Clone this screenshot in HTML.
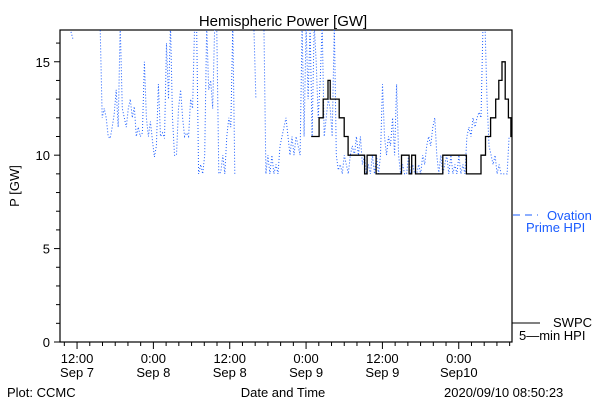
<!DOCTYPE html>
<html><head><meta charset="utf-8"><style>
body{margin:0;background:#fff;}
svg{display:block;font-family:"Liberation Sans","DejaVu Sans",sans-serif;}
</style></head><body>
<svg id="chart" width="600" height="400" viewBox="0 0 600 400" xmlns="http://www.w3.org/2000/svg">
<rect width="600" height="400" fill="#fff"/>
<defs><clipPath id="plotclip"><rect x="60" y="30" width="452" height="312"/></clipPath></defs>
<text x="283" y="26" font-size="15" text-anchor="middle">Hemispheric Power [GW]</text>
<text transform="translate(19,186) rotate(-90)" font-size="13" text-anchor="middle">P [GW]</text>
<text x="283" y="397" font-size="13" text-anchor="middle">Date and Time</text>
<text x="7" y="397" font-size="13">Plot: CCMC</text>
<text x="444" y="397" font-size="13">2020/09/10 08:50:23</text>
<g id="axes"></g>
<g id="series" clip-path="url(#plotclip)"></g>
<g>
<line x1="513" y1="215" x2="538" y2="215" stroke="#1a5cff" stroke-width="1" stroke-dasharray="7,5"/>
<text x="547" y="220" font-size="13" fill="#1a5cff">Ovation</text>
<text x="526" y="232" font-size="13" fill="#1a5cff">Prime HPI</text>
<line x1="512" y1="323" x2="540" y2="323" stroke="#000" stroke-width="1"/>
<text x="553" y="327" font-size="13">SWPC</text>
<text x="519" y="340" font-size="13">5—min HPI</text>
</g>
</svg>
<script>
// time in hours since Sep 7 00:00
const xDomain = [9.32, 80.37];
const yDomain = [0, 16.7];
const yTickValues = [0, 5, 10, 15];
const xTickHours = [12, 24, 36, 48, 60, 72];
const xTickLine1 = ["12:00", "0:00", "12:00", "0:00", "12:00", "0:00"];
const xTickLine2 = ["Sep 7", "Sep 8", "Sep 8", "Sep 9", "Sep 9", "Sep10"];
// Ovation segments: start time, sample spacing (h), values
const ovStarts = [11.05, 15.63, 39.79, 41.37];
const ovSteps = [0.316, 0.316, 0.316, 0.316];
const ovValues = [
 [16.6, 16.2],
 [17,12,12.5,12,11,10.9,11.5,12.2,13.5,11.5,17,12.5,12,11.5,12.5,13,12,12.6,11,11.5,11,11.2,15,12,11,11.8,10.8,9.9,10.5,13.8,11,11.2,10.9,16,13,17,12,10,10,12.5,13.5,12,11,11.2,11,13,12.5,17,17,9,9.5,9,10,17,13.5,14,12.5,17,17,9,9.1,10,9,11,12,11.5,17,9],
 [17, 13],
 [17,9,10,9,10,9,9.5,9,10.5,11,11.5,12,11,10,11,10,11,10.5,10,17,11,17,13,17,11,17,15,12,14,17,11,12,13,12.5,11,17,10,9.2,9.5,9,10,9.5,9,10,10.5,10,11,10,11,9.5,10,9,9.5,9,10,9,10,9,10,13.8,11,10,11,10.5,12,10,13.8,10,9,9.5,9,9,10,9,9.5,9,9,9.5,9,10,9.5,10.5,11,10.5,11.5,12,10,9,10,9,9.5,10,9,10,9,9.5,9,10,9,9.5,9,11,11.5,11,12,11.5,12,12.3,12,17,17,13,10.5,10,9.5,10,9,9.5,9,9,9,9,11]
];
// SWPC step series
const swpcTimes = [48.8,50.05,50.7,51.45,51.8,53.2,54.0,54.6,57.2,57.6,59.0,63.0,64.2,64.6,65.2,69.5,73.2,75.5,76.2,77.0,77.8,78.3,78.8,79.3,79.8,80.2,80.4];
const swpcValues = [11,12,13,14,13,12,11,10,9,10,9,10,9,10,9,10,9,10,11,12,13,14,15,13,12,11,11];

const L=60,R=512,T=30,B=342;
function xs(h){return L+(h-xDomain[0])/(xDomain[1]-xDomain[0])*(R-L);}
function ys(v){return B-(v-yDomain[0])/(yDomain[1]-yDomain[0])*(B-T);}
const NS="http://www.w3.org/2000/svg";
const axes=document.getElementById('axes');
const series=document.getElementById('series');
function mk(tag,attrs,parent){const e=document.createElementNS(NS,tag);for(const k in attrs)e.setAttribute(k,attrs[k]);parent.appendChild(e);return e;}

const frame=mk('rect',{x:L,y:T,width:R-L,height:B-T,fill:'none',stroke:'#000','stroke-width':1.2},axes);


for(let v=0;v<=16;v++){
  const t=mk('line',{x1:L-(v%5===0?6:4),x2:L,y1:ys(v),y2:ys(v),stroke:'#000'},axes);
  
  
}
yTickValues.forEach(v=>{
  const t=mk('text',{x:L-10,y:ys(v)+5,'font-size':13,'text-anchor':'end'},axes);
  t.textContent=v;
  
  
});
for(let h=10;h<=80;h+=2){
  const major=(h%12===0);
  const t=mk('line',{x1:xs(h),x2:xs(h),y1:B,y2:B+(major?7:4),stroke:'#000'},axes);
  
  
}
xTickHours.forEach((h,i)=>{
  const a=mk('text',{x:xs(h),y:363,'font-size':13,'text-anchor':'middle'},axes);
  a.textContent=xTickLine1[i];
  
  
  const b=mk('text',{x:xs(h),y:377,'font-size':13,'text-anchor':'middle'},axes);
  b.textContent=xTickLine2[i];
  
  
});
ovValues.forEach((vals,si)=>{
  const pts=vals.map((v,i)=>xs(ovStarts[si]+i*ovSteps[si]).toFixed(1)+','+ys(v).toFixed(1)).join(' ');
  const p=mk('polyline',{points:pts,fill:'none',stroke:'#1a5cff','stroke-width':1,'stroke-dasharray':'1,2'},series);
  
  
});
let d='';
swpcTimes.forEach((t,i)=>{
  const x=xs(t).toFixed(1),y=ys(swpcValues[i]).toFixed(1);
  if(i===0)d+='M'+x+','+y;else d+=' H'+x+' V'+y;
});
const sw=mk('path',{d:d,fill:'none',stroke:'#000','stroke-width':1.3},series);


</script>
</body></html>
